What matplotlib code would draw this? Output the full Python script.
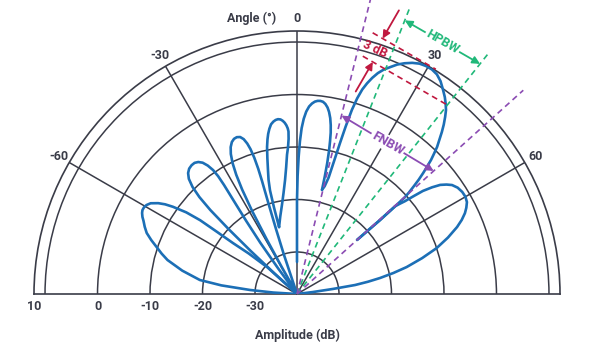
import numpy as np
import matplotlib.pyplot as plt

plt.rcParams['font.family'] = ['Roboto', 'DejaVu Sans']

BLUE = '#1c6fb6'
GRID = '#3a3c48'
GREEN = '#20b879'
PURPLE = '#8b4cb3'
RED = '#c0183f'
TXT = '#3a3c48'

# radial scale: centre of the plot is R_MIN dB, outer frame is R_MAX dB
R_MIN = -38.0
R_MAX = 12.1

ring_db = [-30, -20, -10, 0, 10]
amp_labels = ['-30', '-20', '-10', '0', '10']
spoke_deg = [-60, -30, 0, 30, 60]
angle_labels = ['-60', '-30', '0', '30', '60']

# beam widths (deg)
hpbw_deg = [21.5, 38.5]
fnbw_deg = [14.0, 48.0]

# pattern (angle in deg, amplitude in dB)
lobe_a_ang = [0, 0, 0, 0.3, 0.7, 1.1, 1.6, 2.2, 2.9, 3.7, 4.5, 5.3, 6.1, 6.9, 7.7, 8.5, 9.3,
              10.0, 10.7, 11.3, 11.8, 12.2, 12.6, 13.0, 13.3, 13.5]
lobe_a_db = [-31.9, -25.8, -20.1, -15.5, -11.8, -8.9, -6.4, -4.6, -3.2, -2.2, -1.6, -1.2, -1.0, -0.95,
             -1.05, -1.4, -2.0, -2.8, -3.9, -5.2, -6.6, -8.2, -10.0, -12.4, -15.0, -17.6]

main_ang = [13.5, 14.4, 15.2, 15.6, 15.9, 16.2, 16.6, 17.1, 17.7, 18.4, 19.2, 20.1, 21.1, 22.3, 23.6,
            25.0, 26.5, 28.0, 29.5, 31.0, 32.5, 34.0, 35.6, 36.9, 38.0, 39.0, 39.9, 40.9, 41.8, 42.7,
            43.6, 44.3, 45.0, 45.6, 46.2, 46.8, 47.3, 47.8, 48.1, 48.2, 48.3, 48.0]
main_db = [-17.6, -16.8, -15.0, -11.5, -8.1, -4.8, -1.4, 1.0, 2.9, 4.3, 5.6, 6.8, 7.8, 8.7, 9.7,
           10.5, 11.2, 11.7, 11.9, 11.9, 11.6, 10.9, 9.8, 8.9, 8.0, 7.1, 6.0, 4.7, 3.4, 2.0,
           0.7, -0.6, -1.9, -3.3, -4.7, -6.2, -7.7, -9.2, -10.4, -12.9, -16.9, -22.6]

sixty_ang = [48.0, 48.3, 48.2, 48.8, 49.3, 50.0, 50.7, 51.7, 52.7, 53.8, 54.9, 56.5, 58.3, 60.0, 61.6,
             63.0, 64.3, 65.8, 67.3, 69.5, 71.8, 74.0, 76.2, 77.7, 79.1, 80.2, 81.2, 82.0, 83.0, 84.0]
sixty_db = [-22.6, -16.9, -12.9, -11.8, -10.9, -9.0, -7.0, -5.2, -3.7, -2.7, -1.9, -1.3, -1.0, -0.95, -1.2,
            -1.8, -2.5, -3.6, -4.95, -7.3, -10.0, -13.2, -16.5, -19.2, -21.9, -24.3, -26.8, -31.1, -35.0, -38.0]

l1_ang = [-15.0, -14.9, -14.6, -14.0, -13.2, -12.3, -11.5, -10.8, -10.2, -9.5, -8.7, -7.8, -7.0, -6.2,
          -5.4, -4.7, -4.1, -3.6, -3.2, -3.0, -3.1, -3.5, -4.1, -4.9, -6.0, -7.6, -9.6, -12.2, -15.0]
l1_db = [-24.8, -21.0, -17.6, -15.6, -13.8, -11.5, -9.4, -8.0, -7.0, -6.1, -5.3, -4.85, -4.6, -4.5,
         -4.6, -4.9, -5.3, -5.8, -6.4, -7.0, -8.4, -10.0, -11.4, -13.8, -16.2, -18.6, -20.8, -22.9, -24.8]

l2_ang = [-30.0, -29.5, -29.0, -28.4, -27.7, -27.0, -26.2, -25.3, -24.3, -23.2, -22.1, -21.0, -19.9,
          -19.0, -18.3, -17.8, -17.4, -17.2, -17.2, -17.5, -17.9, -18.4, -19.0]
l2_db = [-38.0, -32.0, -26.0, -20.0, -15.5, -12.5, -10.2, -8.5, -7.3, -6.5, -6.1, -6.0, -6.2,
         -6.8, -7.8, -9.0, -10.8, -13.0, -15.5, -20.0, -25.0, -30.0, -38.0]

l3_ang = [-48.0, -47.6, -47.1, -46.5, -45.9, -45.2, -44.3, -43.2, -42.0, -40.7, -39.3, -38.0, -36.8,
          -35.7, -34.8, -34.1, -33.8, -33.8, -34.1, -34.8, -35.6, -36.4, -37.0]
l3_db = [-38.0, -32.0, -26.0, -20.0, -15.0, -11.8, -9.5, -7.9, -7.0, -6.5, -6.3, -6.3, -6.6,
         -7.2, -8.2, -9.5, -11.0, -13.0, -16.0, -21.0, -26.0, -32.0, -38.0]

l4_ang = [-47.0, -48.0, -50.0, -51.5, -52.2, -52.7, -53.6, -54.9, -55.8, -56.8, -58.2, -59.4, -60.5,
          -61.5, -62.4, -63.5, -64.5, -66.2, -67.9, -69.7, -71.5, -73.4, -75.3, -78.5, -81.8, -83.5,
          -85.1, -86.5, -88.0]
l4_db = [-38.0, -30.4, -26.0, -22.4, -18.5, -14.8, -11.8, -9.1, -7.6, -6.4, -5.2, -4.7, -4.5,
         -4.5, -4.7, -5.1, -5.6, -6.3, -7.1, -8.4, -9.8, -11.1, -12.5, -15.7, -19.3, -23.5,
         -29.0, -33.5, -38.0]

lobes = [(lobe_a_ang, lobe_a_db), (main_ang, main_db), (sixty_ang, sixty_db),
         (l1_ang, l1_db), (l2_ang, l2_db), (l3_ang, l3_db), (l4_ang, l4_db)]


def along(P, S, axis=30.0):
    # point at distance P (dB units from centre) along the beam axis, S sideways
    th = axis + np.degrees(np.arctan2(S, P))
    return np.radians(th), np.hypot(P, S) + R_MIN


fig = plt.figure(figsize=(6, 3.45), dpi=100)
# polar wedge box is kept square, half disc sits in its middle
ax = fig.add_axes([34 / 600, -80.5 / 345, 526 / 600, 526 / 345], projection='polar')
ax.set_theta_zero_location('N')
ax.set_theta_direction(-1)
ax.set_thetamin(-90)
ax.set_thetamax(90)
ax.set_rlim(R_MIN, R_MAX)
ax.set_thetagrids(spoke_deg, labels=[''] * len(spoke_deg))
ax.set_rgrids(ring_db, labels=[''] * len(ring_db))
ax.grid(True, color=GRID, lw=1.1)
ax.tick_params(length=0, pad=0)
for sp in ax.spines.values():
    sp.set_color(GRID)
    sp.set_linewidth(1.2)
ax.set_axisbelow(True)

for a, d in lobes:
    ax.plot(np.radians(a), d, color=BLUE, lw=1.9, solid_joinstyle='round',
            solid_capstyle='round', zorder=3)

dash = (0, (3.5, 2.5))
for a in hpbw_deg:
    ax.plot(np.radians([a, a]), [R_MIN, 20.3], color=GREEN, lw=1.2, ls=dash, clip_on=False, zorder=4)
for a in fnbw_deg:
    ax.plot(np.radians([a, a]), [R_MIN, 20.0], color=PURPLE, lw=1.2, ls=dash, clip_on=False, zorder=4)

# 3 dB lines
for P, s0, s1 in [(50.3, -12.4, 1.5), (45.5, -11.8, 6.9)]:
    p0, p1 = along(P, s0), along(P, s1)
    ax.plot([p0[0], p1[0]], [p0[1], p1[1]], color=RED, lw=1.2, ls=dash, clip_on=False, zorder=4)

arrow = dict(arrowstyle='-|>', lw=1.3, mutation_scale=11, shrinkA=0, shrinkB=0)
ax.annotate('', xy=along(50.3, -10.2), xytext=along(56.5, -10.2),
            arrowprops=dict(arrow, color=RED), annotation_clip=False, zorder=5)
ax.annotate('', xy=along(45.5, -9.6), xytext=along(39.0, -9.6),
            arrowprops=dict(arrow, color=RED), annotation_clip=False, zorder=5)
ax.text(*along(47.8, -10.5), '3 dB', color=RED, fontsize=9, fontweight='bold',
        rotation=-25, ha='center', va='center', zorder=6)

# HPBW
hp_P = 55.4
hp_half = (hpbw_deg[1] - hpbw_deg[0]) / 2
hp_ax = np.mean(hpbw_deg)
hp_r = hp_P / np.cos(np.radians(hp_half)) + R_MIN
ax.annotate('', xy=(np.radians(hpbw_deg[1]), hp_r), xytext=(np.radians(hpbw_deg[0]), hp_r),
            arrowprops=dict(arrow, arrowstyle='<|-|>', color=GREEN), annotation_clip=False, zorder=5)
ax.text(np.radians(hp_ax), hp_P + R_MIN, 'HPBW', color=GREEN, fontsize=9, fontweight='bold',
        rotation=-30, ha='center', va='center', zorder=6,
        bbox=dict(facecolor='white', edgecolor='none', pad=1.0))

# FNBW
fn_P = 33.5
fn_half = (fnbw_deg[1] - fnbw_deg[0]) / 2
fn_ax = np.mean(fnbw_deg)
fn_r = fn_P / np.cos(np.radians(fn_half)) + R_MIN
ax.annotate('', xy=(np.radians(fnbw_deg[1]), fn_r), xytext=(np.radians(fnbw_deg[0]), fn_r),
            arrowprops=dict(arrow, arrowstyle='<|-|>', color=PURPLE), annotation_clip=False, zorder=5)
ax.text(np.radians(fn_ax), fn_P + R_MIN, 'FNBW', color=PURPLE, fontsize=9, fontweight='bold',
        rotation=-30, ha='center', va='center', zorder=6,
        bbox=dict(facecolor='white', edgecolor='none', pad=1.0))

# tick labels
for deg, lab in zip(spoke_deg, angle_labels):
    ax.text(np.radians(deg), 14.4, lab, ha='center', va='center', fontsize=9,
            fontweight='bold', color=TXT)
for v, lab in zip(ring_db, amp_labels):
    dx = -11 if v == 10 else 0
    ax.annotate(lab, xy=(np.radians(-90), v), xytext=(dx, -12), textcoords='offset pixels',
                ha='center', va='center', fontsize=9, fontweight='bold', color=TXT,
                annotation_clip=False)

fig.text(276 / 600, 1 - 18 / 345, 'Angle (°)', ha='right', va='center', fontsize=9,
         fontweight='bold', color=TXT)
fig.text(297 / 600, 1 - 335 / 345, 'Amplitude (dB)', ha='center', va='center', fontsize=9,
         fontweight='bold', color=TXT)

fig.savefig('out.png', dpi=100, facecolor='white')
